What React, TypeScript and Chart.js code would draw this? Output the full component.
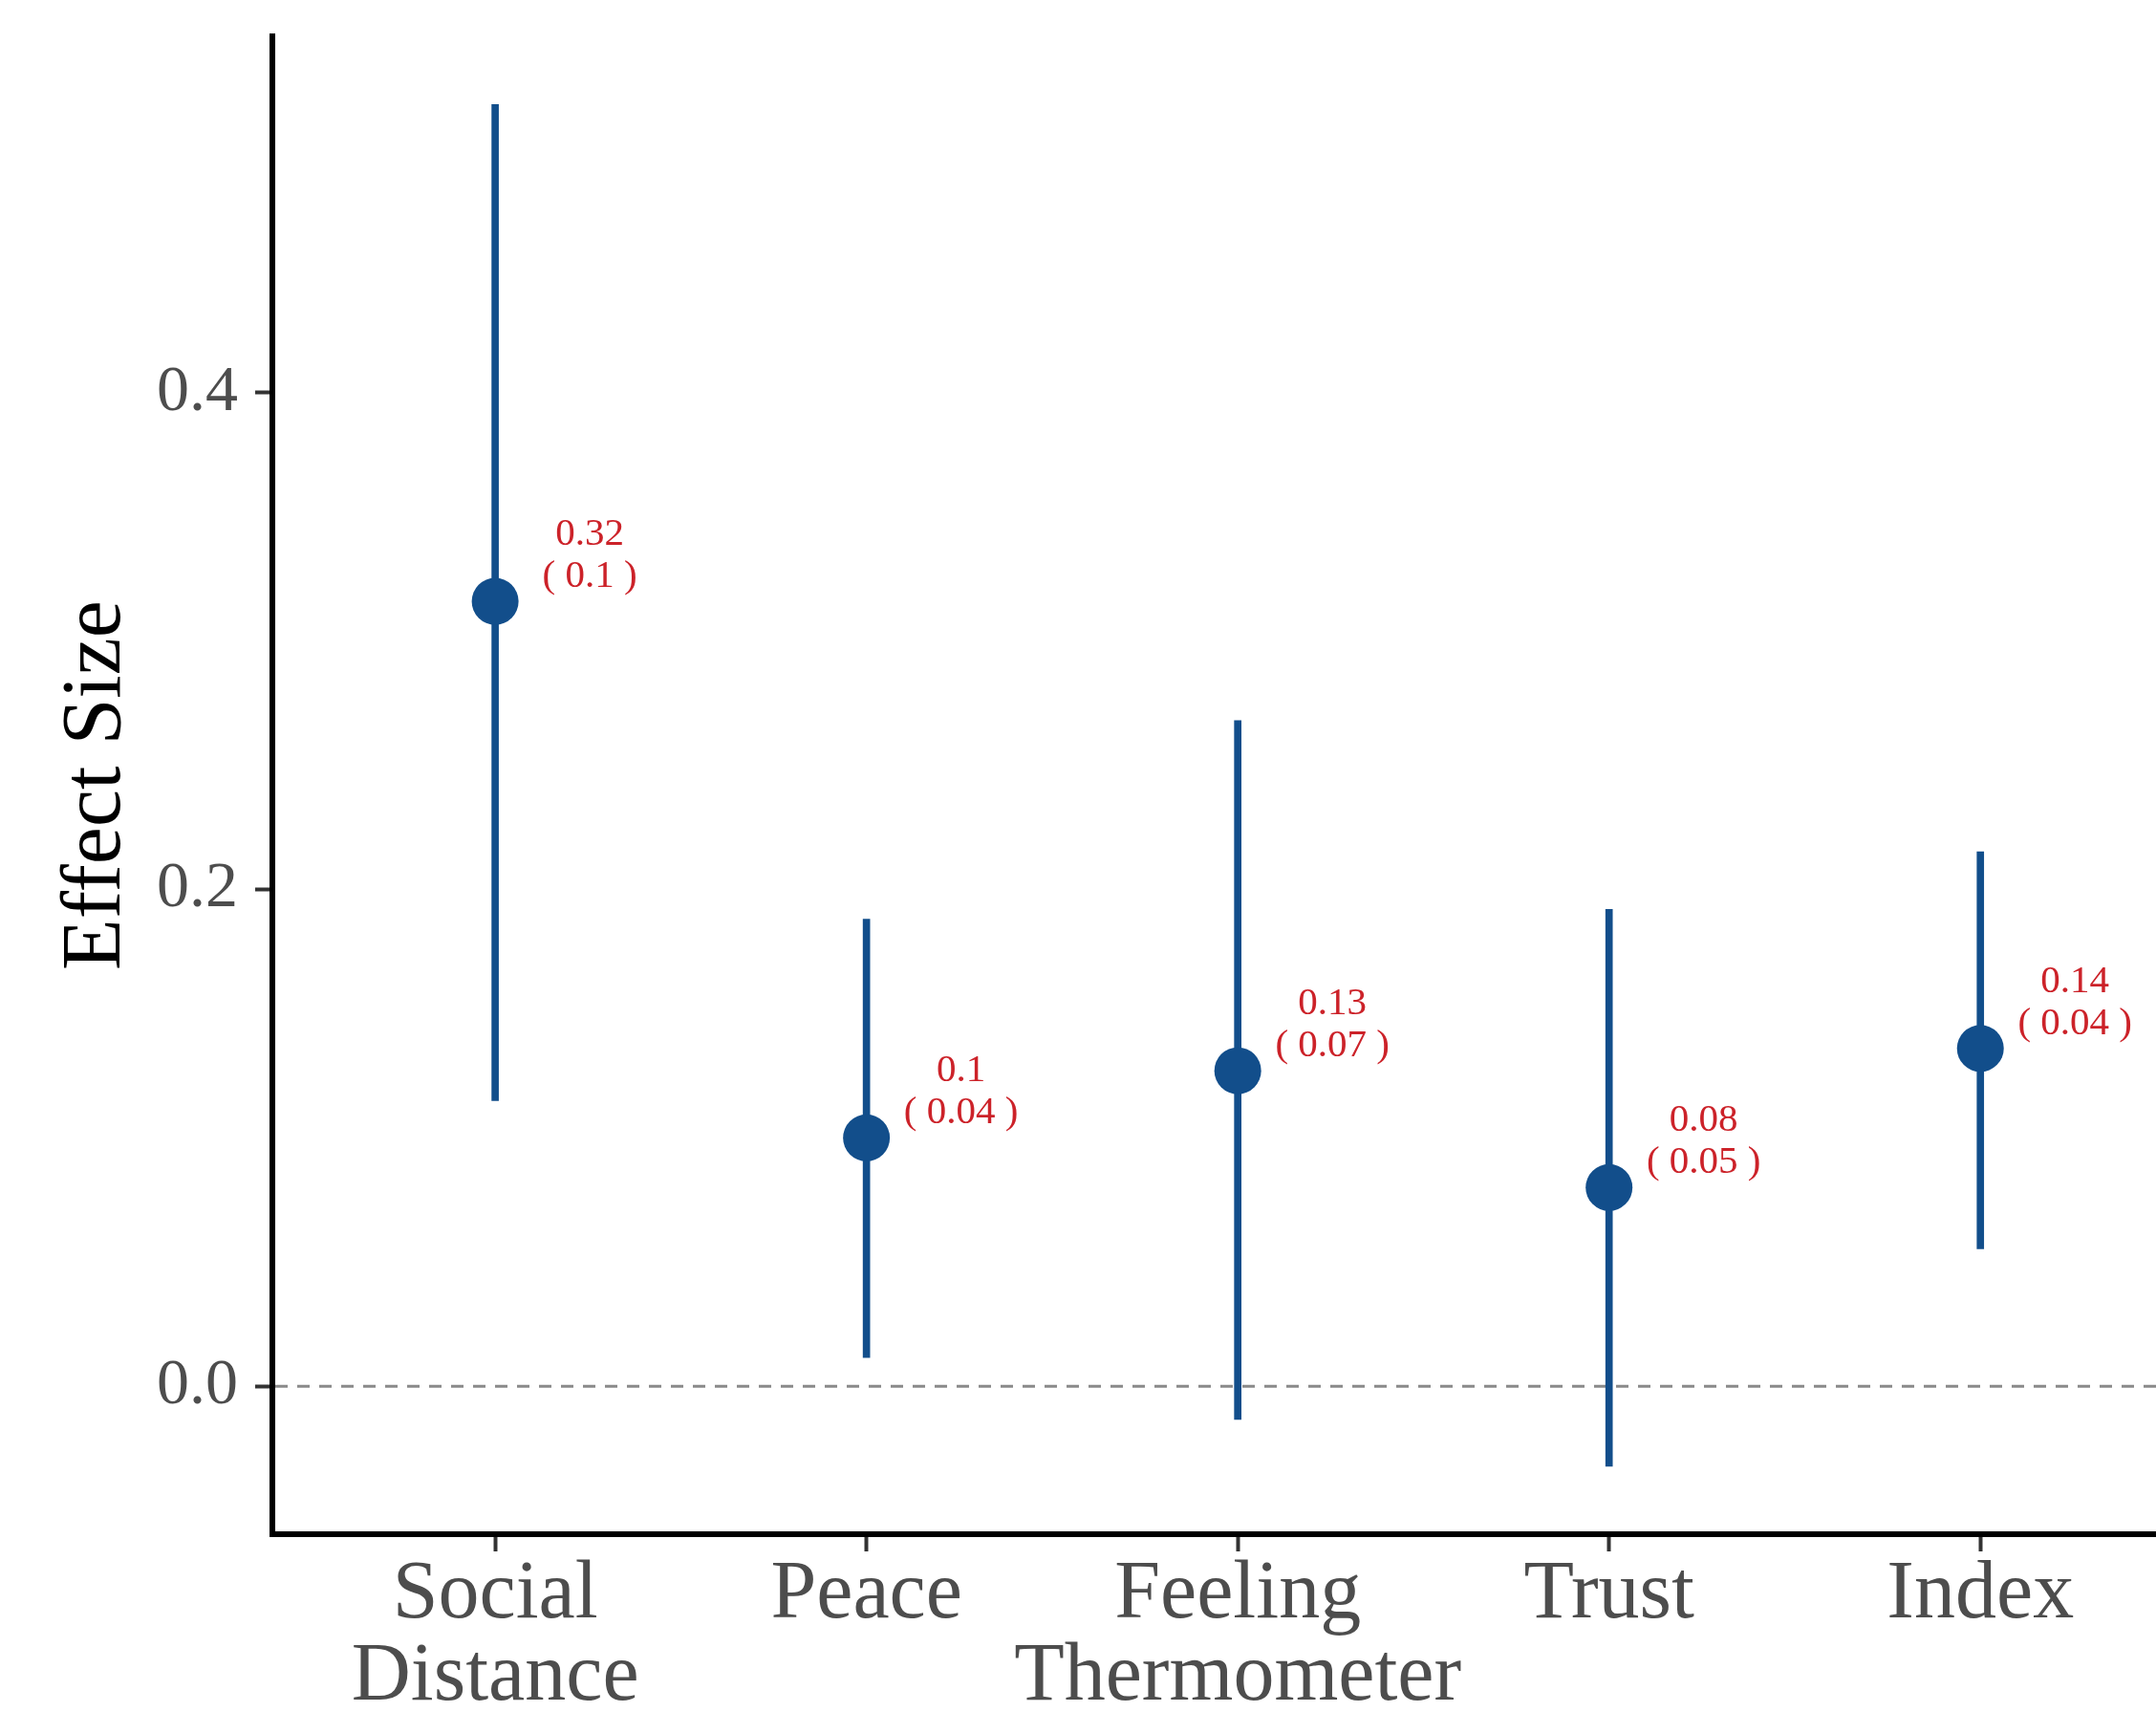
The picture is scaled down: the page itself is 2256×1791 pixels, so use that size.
import React, { useEffect, useRef } from "react";
import { Chart, registerables } from "chart.js";

Chart.register(...registerables);

// ---- data ----
const categories: string[][] = [["Social", "Distance"], ["Peace"], ["Feeling", "Thermometer"], ["Trust"], ["Index"]];
const estimates = [0.316, 0.1, 0.127, 0.08, 0.136];
const ciLow = [0.115, 0.0115, -0.0134, -0.0322, 0.0553];
const ciHigh = [0.516, 0.188, 0.268, 0.192, 0.2152];
const estLabels = ["0.32", "0.1", "0.13", "0.08", "0.14"];
const seLabels = ["( 0.1 )", "( 0.04 )", "( 0.07 )", "( 0.05 )", "( 0.04 )"];
const yTicks = [0, 0.2, 0.4];
const yTickLabels = ["0.0", "0.2", "0.4"];
const yTitle = "Effect Size";

const FONT = "'Liberation Serif', 'Times New Roman', serif";
const BLUE = "#124E8B";
const RED = "#CC2229";

const zeroLinePlugin = {
  id: "zeroLine",
  beforeDatasetsDraw(chart: any) {
    const { ctx, chartArea, scales } = chart;
    const y = scales.y.getPixelForValue(0);
    ctx.save();
    ctx.strokeStyle = "#8A8A8A";
    ctx.lineWidth = 3;
    ctx.setLineDash([13, 10]);
    ctx.beginPath();
    ctx.moveTo(chartArea.left + 3, y);
    ctx.lineTo(chartArea.right, y);
    ctx.stroke();
    ctx.restore();
  },
};

const labelPlugin = {
  id: "estLabels",
  afterDatasetsDraw(chart: any) {
    const { ctx, scales } = chart;
    ctx.save();
    ctx.fillStyle = RED;
    ctx.font = `41px ${FONT}`;
    ctx.textAlign = "center";
    ctx.textBaseline = "alphabetic";
    estimates.forEach((v, i) => {
      const px = scales.x.getPixelForValue(i) + 99;
      const py = scales.y.getPixelForValue(v);
      ctx.fillText(estLabels[i], px, py - 59);
      ctx.fillText(seLabels[i], px, py - 15);
    });
    ctx.restore();
  },
};

export default function App() {
  const ref = useRef<HTMLCanvasElement | null>(null);

  useEffect(() => {
    if (!ref.current) return;
    const chart = new Chart(ref.current, {
      type: "bar",
      data: {
        datasets: [
          {
            type: "bar",
            data: categories.map((_, i) => ({ x: i, y: [ciLow[i], ciHigh[i]] })) as any,
            backgroundColor: BLUE,
            borderWidth: 0,
            barThickness: 7,
            order: 2,
          },
          {
            type: "scatter",
            data: estimates.map((v, i) => ({ x: i, y: v })),
            backgroundColor: BLUE,
            borderWidth: 0,
            pointRadius: 24.5,
            pointHoverRadius: 24.5,
            order: 1,
          } as any,
        ],
      },
      options: {
        responsive: false,
        animation: false,
        devicePixelRatio: 1,
        layout: { autoPadding: false, padding: { top: 38, right: 0, left: 0, bottom: 0 } },
        plugins: { legend: { display: false }, tooltip: { enabled: false } },
        scales: {
          x: {
            type: "linear",
            min: -0.6,
            max: 4.473,
            offset: false,
            grid: { display: true, offset: false, drawOnChartArea: false, drawTicks: true, tickLength: 18, tickWidth: 4, tickColor: "#333333" },
            border: { display: true, color: "#000000", width: 6 },
            afterBuildTicks: (axis: any) => {
              axis.ticks = categories.map((_, i) => ({ value: i }));
            },
            afterFit: (s: any) => {
              s.height = 186;
              s.paddingLeft = 0;
              s.paddingRight = 0;
              s.paddingTop = 0;
              s.paddingBottom = 0;
            },
            ticks: {
              autoSkip: false,
              maxRotation: 0,
              minRotation: 0,
              padding: 3,
              color: "#4D4D4D",
              font: { family: FONT, size: 86, lineHeight: 1.0 },
              callback: (v: any) => categories[Math.round(Number(v))] ?? "",
            },
          },
          y: {
            type: "linear",
            min: -0.0596,
            max: 0.5435,
            grid: { display: true, drawOnChartArea: false, drawTicks: true, tickLength: 18, tickWidth: 4, tickColor: "#333333" },
            border: { display: true, color: "#000000", width: 6 },
            afterBuildTicks: (axis: any) => {
              axis.ticks = yTicks.map((v) => ({ value: v }));
            },
            afterFit: (s: any) => {
              s.width = 285;
              s.paddingLeft = 0;
              s.paddingRight = 0;
              s.paddingTop = 0;
              s.paddingBottom = 0;
            },
            ticks: {
              padding: 18,
              color: "#4D4D4D",
              font: { family: FONT, size: 68 },
              callback: (v: any) => {
                const k = yTicks.findIndex((t) => Math.abs(t - Number(v)) < 1e-9);
                return k >= 0 ? yTickLabels[k] : "";
              },
            },
            title: {
              display: true,
              text: yTitle,
              color: "#000000",
              font: { family: FONT, size: 88, lineHeight: 1.2 },
              padding: { top: 49, bottom: 0 },
            },
          },
        },
      },
      plugins: [zeroLinePlugin, labelPlugin],
    });
    return () => chart.destroy();
  }, []);

  return (
    <div style={{ position: "fixed", left: 0, top: 0, width: 2256, height: 1791, background: "#ffffff" }}>
      <canvas ref={ref} width={2256} height={1791} style={{ display: "block" }} />
    </div>
  );
}
